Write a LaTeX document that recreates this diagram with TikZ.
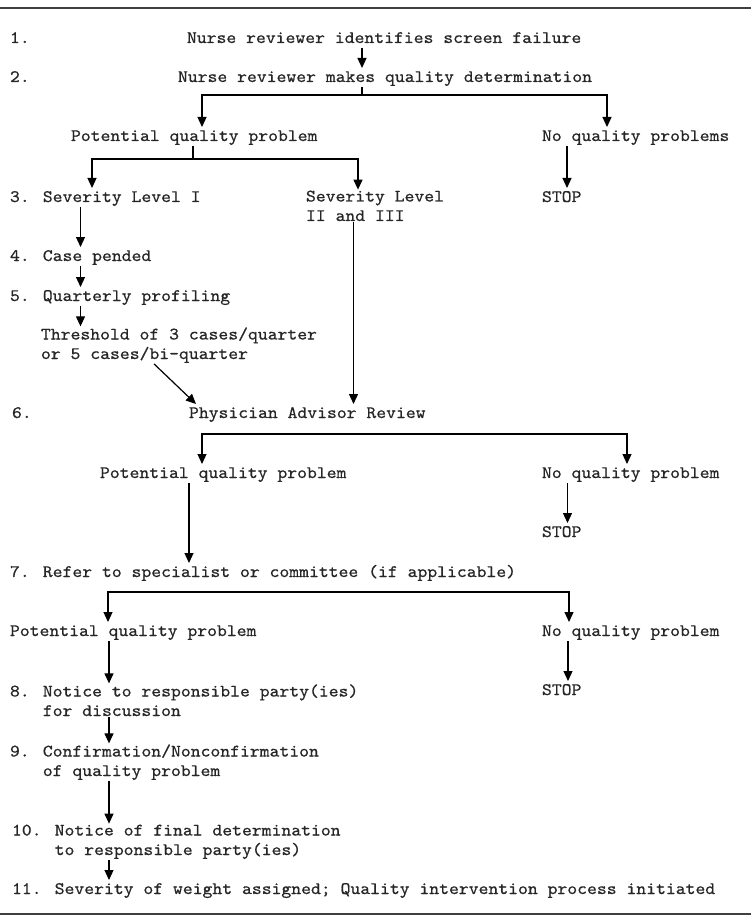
\documentclass[tikz,border=0pt]{standalone}
\usepackage{fontspec}
\newfontfamily\typewriter{lmmono10-regular.otf}[FakeStretch=1.073,FakeBold=0.6]
\usetikzlibrary{arrows.meta,positioning}

\begin{document}
\begin{tikzpicture}[
    x=1pt,y=-1pt,>={Triangle[width=9pt,length=10pt]},
    txt/.style={anchor=base west,inner sep=0pt,outer sep=1pt,text height=13pt,text depth=4pt,
      text=black!85,font=\typewriter\fontsize{17.5}{19.5}\selectfont},
    multi/.style={txt,align=left,text height={},text depth={}},
    flow/.style={->,line width=1.2pt},
    stem/.style={line width=1.2pt},
    rule/.style={line width=2.5pt,black!75}]
  \useasboundingbox (0,0) rectangle (751,917);
  \draw[rule] (0,8) -- (751,8);
  \draw[rule] (0,914) -- (751,914);

  % steps 1 and 2
  \node[txt] (num1) at (9,43) {1.};
  \node[txt] (s1) at (186,43) {Nurse reviewer identifies screen failure};
  \node[txt] (num2) at (9,82) {2.};
  \node[txt] (s2) at (177,82) {Nurse reviewer makes quality determination};
  \node[txt] (pq1) at (70,141) {Potential quality problem};
  \node[txt] (nq1) at (541,141) {No quality problems};
  \node[txt] (stop1) [below=61pt of nq1.base west,anchor=base west] {STOP};

  % steps 3 to 5 (multi-line nodes sit on their last line)
  \node[txt] (s3) at (9,202) {3. Severity Level I};
  \node[multi] (sv23) at (305,221) {Severity Level\\II and III};
  \node[txt] (s4) at (9,261) {4. Case pended};
  \node[txt] (s5) at (9,301) {5. Quarterly profiling};
  \node[multi] (thr) at (40,359) {Threshold of 3 cases/quarter\\or 5 cases/bi-quarter};

  % step 6
  \node[txt] (num6) at (11,418) {6.};
  \node[txt] (s6) at (188,418) {Physician Advisor Review};
  \node[txt] (pq2) at (99,478) {Potential quality problem};
  \node[txt] (nq2) at (541,478) {No quality problem};
  \node[txt] (stop2) [below=59pt of nq2.base west,anchor=base west] {STOP};

  % step 7
  \node[txt] (s7) at (9,577) {7. Refer to specialist or committee (if applicable)};
  \node[txt] (pq3) at (9,636) {Potential quality problem};
  \node[txt] (nq3) at (541,636) {No quality problem};
  \node[txt] (stop3) [below=59pt of nq3.base west,anchor=base west] {STOP};

  % steps 8 to 11
  \node[multi] (s8) at (9,716) {8. Notice to responsible party(ies)\\\phantom{8. }for discussion};
  \node[multi] (s9) at (9,776) {9. Confirmation/Nonconfirmation\\\phantom{9. }of quality problem};
  \node[multi] (s10) at (11,855) {10. Notice of final determination\\\phantom{10. }to responsible party(ies)};
  \node[txt] (s11) at (11,894) {11. Severity of weight assigned; Quality intervention process initiated};

  \coordinate (j2) at (362,95);
  \coordinate (jp1) at (193,159);
  \coordinate (j6) at (414,434);
  \coordinate (j7) at (339,592);

  \draw[flow] (s1.south -| j2) -- (s2.north -| j2);
  \draw[stem] (s2.south -| j2) -- (j2);
  \draw[flow] (j2) -| (pq1.north -| 202,0);
  \draw[flow] (j2) -| (nq1.north -| 607,0);
  \draw[stem] (pq1.south -| jp1) -- (jp1);
  \draw[flow] (jp1) -| (s3.north -| 92,0);
  \draw[flow] (jp1) -| (sv23.north -| 358,0);
  \draw[flow] (nq1.south -| 567,0) -- (stop1.north -| 567,0);
  \draw[flow] (s3.south -| 80.5,0) -- (s4.north -| 80.5,0);
  \draw[flow] (s4.south -| 80.5,0) -- (s5.north -| 80.5,0);
  \draw[flow] (s5.south -| 80.5,0) -- (thr.north -| 80.5,0);
  \draw[flow] (thr.south -| 154,0) -- (s6.north -| 196,0);
  \draw[flow] (sv23.south -| 353.5,0) -- (s6.north -| 353.5,0);
  \draw[flow] (j6) -| (pq2.north -| 202,0);
  \draw[flow] (j6) -| (nq2.north -| 627,0);
  \draw[flow] (pq2.south -| 189,0) -- (s7.north -| 189,0);
  \draw[flow] (nq2.south -| 567.5,0) -- (stop2.north -| 567.5,0);
  \draw[flow] (j7) -| (pq3.north -| 108,0);
  \draw[flow] (j7) -| (nq3.north -| 569,0);
  \draw[flow] (pq3.south -| 109,0) -- (s8.north -| 109,0);
  \draw[flow] (nq3.south -| 568,0) -- (stop3.north -| 568,0);
  \draw[flow] (s8.south -| 109,0) -- (s9.north -| 109,0);
  \draw[flow] (s9.south -| 109,0) -- (s10.north -| 109,0);
  \draw[flow] (s10.south -| 109,0) -- (s11.north -| 109,0);
\end{tikzpicture}
\end{document}
